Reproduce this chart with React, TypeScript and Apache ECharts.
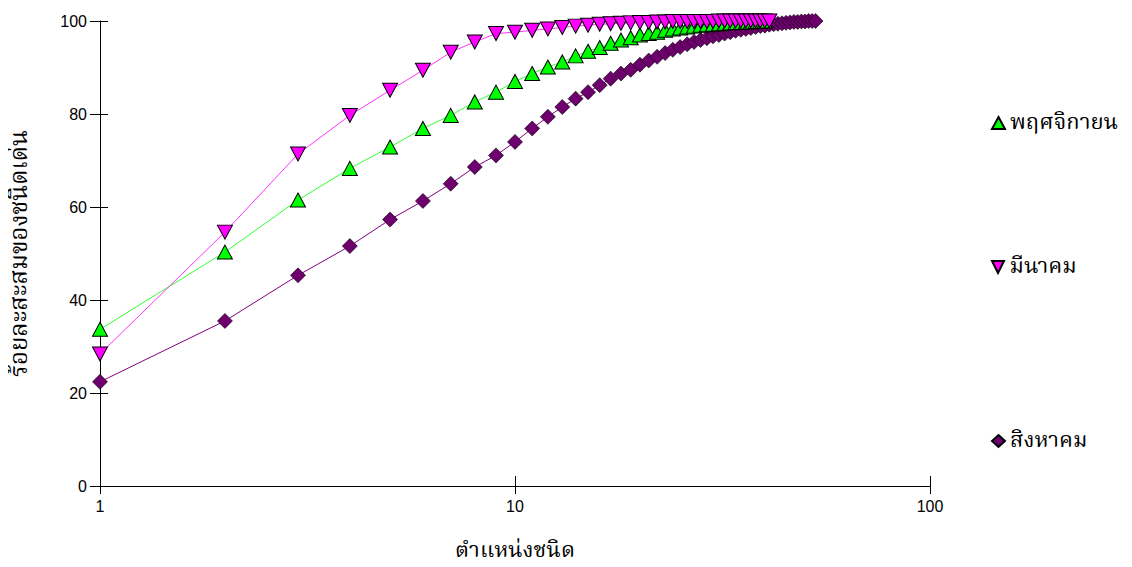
import React, { useEffect, useRef } from "react";
import * as echarts from "echarts";

const seriesNames = ["พฤศจิกายน", "มีนาคม", "สิงหาคม"];
const xTickLabels = ["1", "10", "100"];
const yTickLabels = ["0", "20", "40", "60", "80", "100"];

const novemberValues = [
  33.7, 50.3, 61.5, 68.3, 72.9, 76.9, 79.7, 82.6, 84.7, 87.0,
  88.7, 90.1, 91.2, 92.5, 93.5, 94.3, 95.2, 95.9, 96.4, 97.0,
  97.3, 97.6, 98.0, 98.3, 98.5, 98.7, 98.9, 99.1, 99.2, 99.3,
  99.4, 99.5, 99.6, 99.7, 99.7, 99.8, 99.8, 99.9, 99.9, 100,
];
const marchValues = [
  28.4, 54.6, 71.4, 79.7, 85.1, 89.4, 93.3, 95.5, 97.3, 97.6,
  98.0, 98.3, 98.6, 98.9, 99.1, 99.3, 99.4, 99.5, 99.6, 99.7,
  99.7, 99.8, 99.8, 99.9, 99.9, 99.9, 99.9, 99.9, 99.9, 99.9,
  100, 100, 100, 100, 100, 100, 100, 100, 100, 100,
  100,
];
const augustValues = [
  22.4, 35.5, 45.3, 51.6, 57.3, 61.3, 65.0, 68.6, 71.1, 74.0,
  76.9, 79.4, 81.5, 83.3, 84.7, 86.2, 87.6, 88.7, 89.5, 90.6,
  91.5, 92.3, 93.1, 93.8, 94.4, 95.0, 95.5, 95.9, 96.3, 96.7,
  97.0, 97.3, 97.6, 97.9, 98.1, 98.3, 98.5, 98.7, 98.9, 99.0,
  99.2, 99.3, 99.4, 99.5, 99.6, 99.7, 99.8, 99.8, 99.9, 99.9,
  100, 100, 100,
];

const toPairs = (vals: number[]) => vals.map((v, i) => [i + 1, v]);

const thaiFont = "'Angsana New', 'Noto Serif Thai', 'Noto Sans Thai', 'Garuda', 'Norasi', serif";
const numFont = "'Liberation Sans Narrow', 'Arial Narrow', 'Liberation Sans', sans-serif";
const downTriangle = "path://M0,0 L10,0 L5,10 Z";

export default function App() {
  const ref = useRef<HTMLDivElement>(null);
  useEffect(() => {
    if (!ref.current) return;
    const chart = echarts.init(ref.current, undefined, { renderer: "svg" });
    const axisLine = { show: true, lineStyle: { color: "#000", width: 1 } };
    const legendBase = {
      orient: "vertical" as const,
      left: 986,
      itemWidth: 13,
      itemHeight: 12,
      itemGap: 0,
      textStyle: { fontFamily: thaiFont, fontSize: 22, color: "#000" },
    };
    chart.setOption({
      animation: false,
      backgroundColor: "#fff",
      grid: { left: 100, right: 202, top: 21, bottom: 81, containLabel: false },
      legend: [
        { ...legendBase, top: 107, data: [{ name: seriesNames[0], icon: "triangle" }] },
        { ...legendBase, top: 251, data: [{ name: seriesNames[1], icon: downTriangle }] },
        { ...legendBase, top: 425, data: [{ name: seriesNames[2], icon: "diamond" }] },
      ],
      xAxis: [
        {
          type: "log",
          logBase: 10,
          min: 1,
          max: 100,
          name: "ตำแหน่งชนิด",
          nameLocation: "middle",
          nameGap: 54,
          nameTextStyle: { fontFamily: thaiFont, fontSize: 22, color: "#000" },
          axisLine,
          axisTick: { show: true, length: 8, lineStyle: { color: "#000" } },
          axisLabel: {
            fontFamily: numFont,
            fontSize: 16,
            color: "#000",
            margin: 12,
            formatter: (v: number) => {
              const s = String(Math.round(v));
              return xTickLabels.includes(s) ? s : "";
            },
          },
          splitLine: { show: false },
          minorTick: { show: false },
        },
        {
          type: "log",
          logBase: 10,
          min: 1,
          max: 100,
          position: "bottom",
          axisLine: { show: false },
          axisTick: { show: true, inside: true, length: 10, lineStyle: { color: "#000" } },
          axisLabel: { show: false },
          splitLine: { show: false },
        },
      ],
      yAxis: [
        {
          type: "value",
          min: 0,
          max: 100,
          interval: 20,
          name: "ร้อยละสะสมของชนิดเด่น",
          nameLocation: "middle",
          nameGap: 68,
          nameTextStyle: { fontFamily: thaiFont, fontSize: 24, color: "#000" },
          axisLine,
          axisTick: { show: true, length: 10, lineStyle: { color: "#000" } },
          axisLabel: {
            fontFamily: numFont,
            fontSize: 16,
            color: "#000",
            margin: 13,
            formatter: (v: number) => {
              const s = String(v);
              return yTickLabels.includes(s) ? s : "";
            },
          },
          splitLine: { show: false },
        },
        {
          type: "value",
          min: 0,
          max: 100,
          interval: 20,
          position: "left",
          axisLine: { show: false },
          axisTick: { show: true, inside: true, length: 8, lineStyle: { color: "#000" } },
          axisLabel: { show: false },
          splitLine: { show: false },
        },
      ],
      series: [
        {
          name: seriesNames[0],
          type: "line",
          data: toPairs(novemberValues),
          symbol: "triangle",
          symbolSize: [15, 14],
          lineStyle: { color: "#33ff33", width: 1 },
          itemStyle: { color: "#00ff00", borderColor: "#000", borderWidth: 1 },
          z: 3,
        },
        {
          name: seriesNames[1],
          type: "line",
          data: toPairs(marchValues),
          symbol: "triangle",
          symbolRotate: 180,
          symbolSize: [15, 14],
          lineStyle: { color: "#ff33ff", width: 1 },
          itemStyle: { color: "#ff00ff", borderColor: "#000", borderWidth: 1 },
          z: 4,
        },
        {
          name: seriesNames[2],
          type: "line",
          data: toPairs(augustValues),
          symbol: "diamond",
          symbolSize: [15, 15],
          lineStyle: { color: "#800080", width: 1 },
          itemStyle: { color: "#6e006e", borderColor: "#000", borderWidth: 0.6 },
          z: 2,
        },
      ],
    });
    return () => chart.dispose();
  }, []);
  return <div ref={ref} style={{ width: 1132, height: 567, margin: -8 }} />;
}
